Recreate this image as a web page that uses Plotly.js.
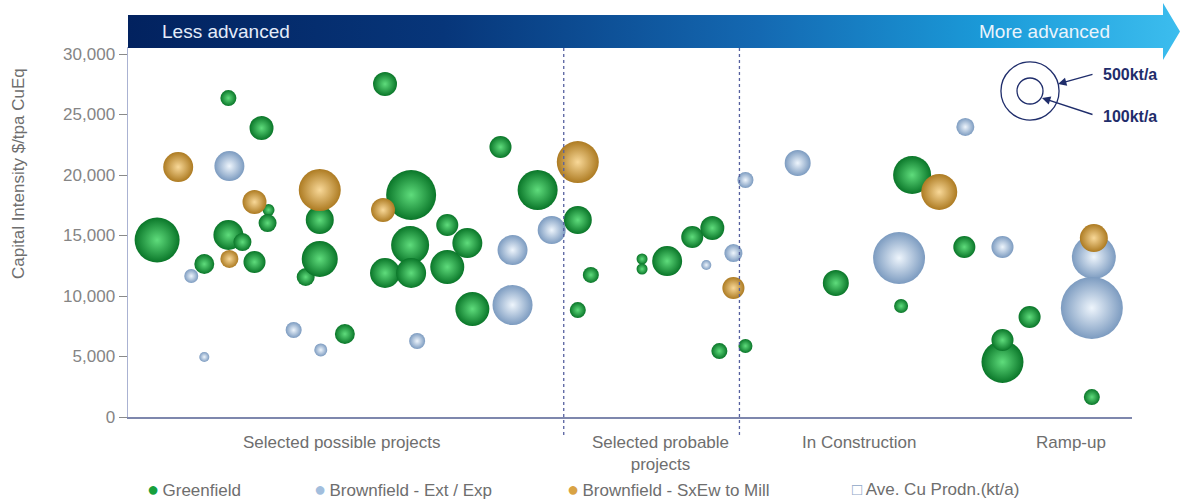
<!DOCTYPE html>
<html><head><meta charset="utf-8">
<script src="https://cdn.plot.ly/plotly-3.0.1.min.js"></script>
<style>html,body{margin:0;padding:0;background:#fff;} #chart{width:1180px;height:502px;}</style>
</head><body><div id="chart"></div>
<script>
// ---- Data (x = position along project-maturity stage, 0-100; y = capital intensity $/tpa CuEq; prod = ave. Cu production kt/a)
const greenX = [2.9,7.6,10.0,13.3,10.0,11.4,12.6,14.0,13.9,17.7,19.1,19.1,21.6,25.6,28.2,25.6,28.1,28.2,31.8,31.8,33.8,34.3,37.1,40.8,44.8,46.1,44.8,51.2,51.2,53.7,56.2,58.2,58.9,61.5,70.5,77.0,78.1,83.3,87.1,87.1,89.8,96.0];
const greenY = [14630,12640,26360,23880,15040,14460,12810,17110,16030,11570,16280,13060,6860,27520,18350,11900,14210,11900,15870,12400,14380,8930,22310,18760,16280,11740,8840,13060,12230,12890,14880,15620,5450,5870,11070,9170,20000,14050,4550,6360,8260,1650];
const greenProd = [300,59,38,85,133,48,72,21,48,48,116,192,59,85,370,133,214,133,72,171,133,171,72,237,116,38,38,18,18,133,72,85,38,29,100,29,214,72,261,72,72,38];

const blueX = [6.3,7.6,10.1,16.5,19.2,28.8,38.3,38.3,42.2,57.6,60.3,61.5,66.7,83.4,76.8,87.1,96.2,96.0];
const blueY = [11650,4960,20740,7190,5540,6280,13800,9260,15450,12560,13550,19590,20990,23970,13140,14050,13220,9010];
const blueProd = [29,15,133,38,25,38,133,237,116,15,48,38,100,48,400,72,286,569];

const orangeX = [5.0,10.1,12.6,19.1,25.4,44.8,60.3,80.8,96.2];
const orangeY = [20660,13060,17770,18760,17110,21070,10660,18600,14790];
const orangeProd = [133,48,85,261,85,261,72,192,116];

const seriesNames = ['Greenfield','Brownfield - Ext / Exp','Brownfield - SxEw to Mill'];
const sizeLegendName = 'Ave. Cu Prodn.(kt/a)';
const sizeLegendValues = [500, 100];
const categories = ['Selected possible projects','Selected probable<br>projects','In Construction','Ramp-up'];
const categoryCenters = [21.3, 53.0, 72.8, 93.9];
const stageBounds = [43.4, 60.9];
const yTicks = [0,5000,10000,15000,20000,25000,30000];
const bannerLabels = ['Less advanced','More advanced'];

// ---- Styling / layout helpers
const FONT = 'Liberation Sans, Arial, sans-serif';
const ML = 128, MR = 48, MT = 47, MB = 85, W = 1180, H = 502;
const PW = W - ML - MR, PH = H - MT - MB;
const px = v => (v - ML) / PW;
const py = v => (H - MB - v) / PH;
const SIZEREF = 0.296;
const diam = v => Math.sqrt(2 * v / SIZEREF);

const colors = {
  green: {edge:'#0a7629', hi:'#5fdc7c', key:'#17a03c'},
  blue: {edge:'#7c9bc0', hi:'#eef5fc', key:'#a2bedd'},
  orange: {edge:'#ad7b22', hi:'#f8d898', key:'#d9a344'}
};

function bubble(x, y, s, name, c) {
  return {
    type:'scatter', mode:'markers', name:name, x:x, y:y, showlegend:false,
    marker:{size:s, sizemode:'area', sizeref:SIZEREF, color:c.edge,
      gradient:{type:'radial', color:c.hi}, line:{width:0}, opacity:1},
    hovertemplate: name + '<br>%{y:,}<br>%{marker.size} kt/a<extra></extra>'
  };
}

const data = [
  bubble(blueX, blueY, blueProd, seriesNames[1], colors.blue),
  bubble(greenX, greenY, greenProd, seriesNames[0], colors.green),
  bubble(orangeX, orangeY, orangeProd, seriesNames[2], colors.orange)
];

const bannerSvg = '<svg xmlns="http://www.w3.org/2000/svg" width="1052" height="57" viewBox="0 0 1052 57" preserveAspectRatio="none">' +
  '<defs><linearGradient id="g" x1="0" y1="0" x2="1" y2="0">' +
  '<stop offset="0" stop-color="#02225f"/><stop offset="0.3" stop-color="#07367a"/>' +
  '<stop offset="0.6" stop-color="#1469b2"/><stop offset="0.82" stop-color="#1b9bd9"/>' +
  '<stop offset="1" stop-color="#3cbdee"/></linearGradient></defs>' +
  '<path d="M0,12 H1035 V0 L1052,28.5 L1035,57 V45 H0 Z" fill="url(#g)"/></svg>';

const annotations = [];
// banner labels
annotations.push({xref:'paper', yref:'paper', x:px(160), y:py(31), xanchor:'left', yanchor:'middle',
  text:bannerLabels[0], showarrow:false, font:{family:FONT, size:19, color:'#e4ecfa'}});
annotations.push({xref:'paper', yref:'paper', x:px(1112), y:py(31), xanchor:'right', yanchor:'middle',
  text:bannerLabels[1], showarrow:false, font:{family:FONT, size:19, color:'#eaf4fc'}});
// category labels
categories.forEach((c, i) => annotations.push({xref:'x', yref:'paper', x:categoryCenters[i], y:py(431),
  xanchor:'center', yanchor:'top', text:c, showarrow:false, align:'center',
  font:{family:FONT, size:17, color:'#6e6e6e'}}));
// y-axis title
annotations.push({xref:'paper', yref:'paper', x:px(18), y:py(174), xanchor:'center', yanchor:'middle',
  text:'Capital Intensity $/tpa CuEq', textangle:-90, showarrow:false, font:{family:FONT, size:17, color:'#6e6e6e'}});
// legend
const legendItems = [
  {x:145, sym:'●', col:colors.green.key, txt:seriesNames[0]},
  {x:312, sym:'●', col:colors.blue.key, txt:seriesNames[1]},
  {x:565, sym:'●', col:colors.orange.key, txt:seriesNames[2]},
  {x:850, sym:'□', col:'#8ea6c6', txt:sizeLegendName}
];
legendItems.forEach(it => annotations.push({xref:'paper', yref:'paper', x:px(it.x), y:py(489),
  xanchor:'left', yanchor:'middle', showarrow:false,
  text:'<span style="color:' + it.col + '; font-size:' + (it.sym === '●' ? 20 : 17) + 'px">' + it.sym + '</span>\u2009' + it.txt,
  font:{family:FONT, size:17, color:'#6e6e6e'}}));
// size legend labels and arrows
const navy = '#1f2d6b';
annotations.push({xref:'paper', yref:'paper', x:px(1101), y:py(74), xanchor:'left', yanchor:'middle', showarrow:false,
  text:'<b>' + sizeLegendValues[0] + 'kt/a</b>', font:{family:FONT, size:16, color:navy}});
annotations.push({xref:'paper', yref:'paper', x:px(1101), y:py(116), xanchor:'left', yanchor:'middle', showarrow:false,
  text:'<b>' + sizeLegendValues[1] + 'kt/a</b>', font:{family:FONT, size:16, color:navy}});
annotations.push({xref:'paper', yref:'paper', x:px(1058), y:py(84), ax:36, ay:-10, text:'', showarrow:true,
  arrowhead:2, arrowsize:1.2, arrowwidth:1.4, arrowcolor:navy});
annotations.push({xref:'paper', yref:'paper', x:px(1042), y:py(98), ax:52, ay:17, text:'', showarrow:true,
  arrowhead:2, arrowsize:1.2, arrowwidth:1.4, arrowcolor:navy});

const shapes = [];
stageBounds.forEach(b => shapes.push({type:'line', xref:'x', yref:'paper', x0:b, x1:b, y0:py(435), y1:1,
  line:{color:'#56619f', width:1.3, dash:'3px,3px'}}));
sizeLegendValues.forEach(v => {
  const d = diam(v);
  shapes.push({type:'circle', xref:'paper', yref:'paper', xsizemode:'pixel', ysizemode:'pixel',
    xanchor:px(1030), yanchor:py(91), x0:-d/2, x1:d/2, y0:-d/2, y1:d/2,
    line:{color:navy, width:1.3}, fillcolor:'rgba(0,0,0,0)'});
});

const layout = {
  width:W, height:H, margin:{l:ML, r:MR, t:MT, b:MB, pad:0},
  paper_bgcolor:'#ffffff', plot_bgcolor:'#ffffff', showlegend:false,
  font:{family:FONT, color:'#6e6e6e'},
  xaxis:{range:[0,100], showgrid:false, zeroline:false, showticklabels:false, ticks:'',
    showline:true, linecolor:'#7e87ad', linewidth:1.5, fixedrange:true},
  yaxis:{range:[0,30580], tickvals:yTicks, tickformat:',d', showgrid:false, zeroline:false,
    ticks:'outside', ticklen:8, tickcolor:'#8a8a8a', tickwidth:1,
    showline:true, linecolor:'#aab2d2', linewidth:1.5,
    tickfont:{family:FONT, size:17, color:'#858585'}, fixedrange:true},
  annotations:annotations, shapes:shapes,
  images:[{source:'data:image/svg+xml;charset=utf-8,' + encodeURIComponent(bannerSvg),
    xref:'paper', yref:'paper', x:0, y:py(3), sizex:(W - ML)/PW, sizey:57/PH,
    xanchor:'left', yanchor:'top', sizing:'stretch', layer:'above'}]
};

Plotly.newPlot('chart', data, layout, {displayModeBar:false, staticPlot:true});
</script></body></html>
